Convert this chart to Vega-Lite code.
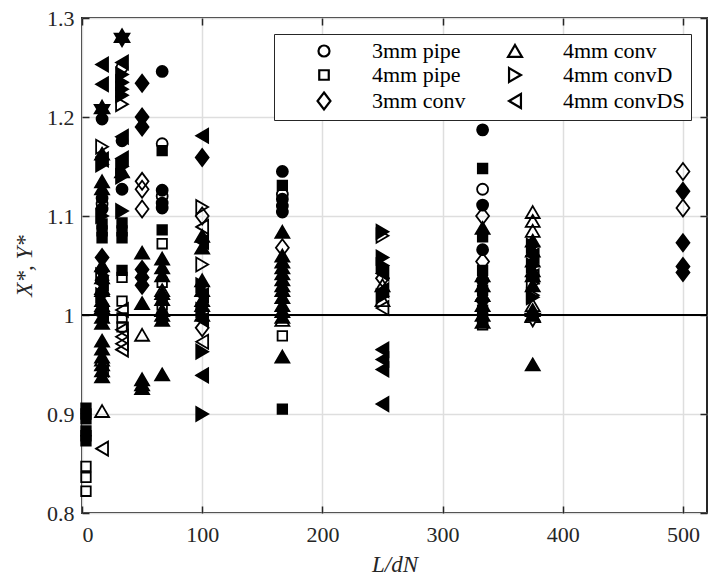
{
  "width": 625,
  "height": 495,
  "autosize": {"type": "none"},
  "padding": {"left": 82, "top": 18, "right": 7, "bottom": 66},
  "background": "white",
  "config": {
    "font": "Liberation Serif, DejaVu Serif, serif",
    "view": {"stroke": "#262626", "strokeWidth": 2},
    "axis": {
      "domain": false, "tickColor": "#262626", "tickWidth": 1.5, "tickSize": -7,
      "labelColor": "#262626", "labelFontSize": 22, "labelFont": "Liberation Serif, DejaVu Serif, serif",
      "titleFont": "Liberation Serif, DejaVu Serif, serif", "titleFontSize": 23, "titleFontWeight": "normal",
      "titleFontStyle": "italic", "titleColor": "#262626",
      "gridColor": "#dedede", "gridWidth": 1.5, "gridOpacity": 1
    }
  },
  "data": {"values": [
    {"x":3.3,"y":0.906,"g":"4mm pipe","f":"X"},{"x":3.3,"y":0.9,"g":"4mm pipe","f":"X"},{"x":3.3,"y":0.895,"g":"4mm pipe","f":"X"},
    {"x":3.3,"y":0.883,"g":"4mm pipe","f":"X"},{"x":3.3,"y":0.878,"g":"4mm pipe","f":"X"},{"x":3.3,"y":0.873,"g":"4mm pipe","f":"X"},
    {"x":3.3,"y":0.847,"g":"4mm pipe","f":"Y"},{"x":3.3,"y":0.836,"g":"4mm pipe","f":"Y"},{"x":3.3,"y":0.822,"g":"4mm pipe","f":"Y"},

    {"x":16.7,"y":1.253,"g":"4mm convDS","f":"X"},{"x":16.7,"y":1.233,"g":"4mm convDS","f":"X"},{"x":16.7,"y":1.208,"g":"star","f":"X"},
    {"x":16.7,"y":1.198,"g":"3mm pipe","f":"X"},{"x":16.7,"y":1.17,"g":"4mm convD","f":"Y"},{"x":16.7,"y":1.163,"g":"4mm conv","f":"X"},
    {"x":16.7,"y":1.157,"g":"4mm convDS","f":"X"},{"x":16.7,"y":1.158,"g":"3mm pipe","f":"Y"},{"x":16.7,"y":1.152,"g":"4mm convD","f":"X"},
    {"x":16.7,"y":1.135,"g":"4mm conv","f":"X"},{"x":16.7,"y":1.128,"g":"4mm conv","f":"X"},{"x":16.7,"y":1.118,"g":"3mm pipe","f":"X"},
    {"x":16.7,"y":1.112,"g":"3mm pipe","f":"Y"},{"x":16.7,"y":1.107,"g":"3mm pipe","f":"X"},{"x":16.7,"y":1.1,"g":"4mm convD","f":"X"},
    {"x":16.7,"y":1.092,"g":"4mm pipe","f":"X"},{"x":16.7,"y":1.085,"g":"4mm pipe","f":"X"},{"x":16.7,"y":1.078,"g":"4mm pipe","f":"X"},
    {"x":16.7,"y":1.058,"g":"3mm conv","f":"X"},{"x":16.7,"y":1.05,"g":"4mm conv","f":"X"},{"x":16.7,"y":1.045,"g":"3mm conv","f":"X"},
    {"x":16.7,"y":1.038,"g":"4mm conv","f":"X"},{"x":16.7,"y":1.032,"g":"4mm convDS","f":"X"},{"x":16.7,"y":1.027,"g":"4mm conv","f":"X"},
    {"x":16.7,"y":1.02,"g":"4mm convD","f":"X"},{"x":16.7,"y":1.015,"g":"4mm conv","f":"X"},{"x":16.7,"y":1.008,"g":"4mm conv","f":"X"},
    {"x":16.7,"y":1.003,"g":"4mm convDS","f":"X"},{"x":16.7,"y":0.998,"g":"4mm conv","f":"X"},{"x":16.7,"y":0.992,"g":"4mm conv","f":"X"},
    {"x":16.7,"y":1.025,"g":"4mm conv","f":"Y"},{"x":16.7,"y":1.01,"g":"4mm conv","f":"Y"},{"x":16.7,"y":1.04,"g":"4mm convD","f":"Y"},
    {"x":16.7,"y":1.0,"g":"4mm convDS","f":"Y"},{"x":16.7,"y":1.035,"g":"3mm conv","f":"Y"},
    {"x":16.7,"y":0.974,"g":"4mm conv","f":"X"},{"x":16.7,"y":0.966,"g":"4mm conv","f":"X"},{"x":16.7,"y":0.958,"g":"4mm conv","f":"X"},
    {"x":16.7,"y":0.95,"g":"4mm conv","f":"X"},{"x":16.7,"y":0.944,"g":"4mm conv","f":"X"},{"x":16.7,"y":0.938,"g":"4mm conv","f":"X"},
    {"x":16.7,"y":0.955,"g":"4mm conv","f":"Y"},{"x":16.7,"y":0.945,"g":"4mm convDS","f":"Y"},{"x":16.7,"y":0.903,"g":"4mm conv","f":"Y"},
    {"x":16.7,"y":0.865,"g":"4mm convDS","f":"Y"},

    {"x":33.3,"y":1.28,"g":"star","f":"X"},{"x":33.3,"y":1.255,"g":"4mm convDS","f":"X"},{"x":33.3,"y":1.25,"g":"3mm pipe","f":"Y"},
    {"x":33.3,"y":1.243,"g":"4mm convD","f":"X"},{"x":33.3,"y":1.235,"g":"4mm convD","f":"X"},{"x":33.3,"y":1.228,"g":"4mm convD","f":"X"},
    {"x":33.3,"y":1.222,"g":"4mm convD","f":"X"},{"x":33.3,"y":1.213,"g":"4mm convD","f":"Y"},{"x":33.3,"y":1.18,"g":"4mm convDS","f":"X"},
    {"x":33.3,"y":1.176,"g":"3mm pipe","f":"X"},{"x":33.3,"y":1.158,"g":"4mm convDS","f":"X"},{"x":33.3,"y":1.15,"g":"4mm convD","f":"X"},
    {"x":33.3,"y":1.145,"g":"4mm conv","f":"X"},{"x":33.3,"y":1.14,"g":"4mm convD","f":"X"},{"x":33.3,"y":1.127,"g":"3mm pipe","f":"X"},
    {"x":33.3,"y":1.105,"g":"4mm convD","f":"X"},{"x":33.3,"y":1.093,"g":"4mm pipe","f":"X"},{"x":33.3,"y":1.085,"g":"4mm pipe","f":"X"},
    {"x":33.3,"y":1.078,"g":"4mm pipe","f":"X"},{"x":33.3,"y":1.045,"g":"4mm pipe","f":"X"},{"x":33.3,"y":1.038,"g":"4mm pipe","f":"Y"},
    {"x":33.3,"y":1.014,"g":"4mm pipe","f":"Y"},{"x":33.3,"y":1.005,"g":"4mm convDS","f":"Y"},{"x":33.3,"y":0.997,"g":"4mm pipe","f":"Y"},
    {"x":33.3,"y":0.988,"g":"4mm pipe","f":"Y"},{"x":33.3,"y":0.985,"g":"4mm convDS","f":"Y"},{"x":33.3,"y":0.978,"g":"4mm convDS","f":"Y"},
    {"x":33.3,"y":0.971,"g":"4mm convDS","f":"Y"},{"x":33.3,"y":0.965,"g":"4mm convDS","f":"Y"},

    {"x":50,"y":1.234,"g":"3mm conv","f":"X"},{"x":50,"y":1.2,"g":"3mm conv","f":"X"},{"x":50,"y":1.19,"g":"3mm conv","f":"X"},
    {"x":50,"y":1.135,"g":"3mm conv","f":"Y"},{"x":50,"y":1.127,"g":"3mm conv","f":"Y"},{"x":50,"y":1.107,"g":"3mm conv","f":"Y"},
    {"x":50,"y":1.063,"g":"4mm conv","f":"X"},{"x":50,"y":1.046,"g":"3mm conv","f":"X"},{"x":50,"y":1.038,"g":"3mm conv","f":"X"},
    {"x":50,"y":1.03,"g":"3mm conv","f":"X"},{"x":50,"y":1.012,"g":"4mm conv","f":"X"},{"x":50,"y":0.98,"g":"4mm conv","f":"Y"},
    {"x":50,"y":0.935,"g":"4mm conv","f":"X"},{"x":50,"y":0.93,"g":"4mm conv","f":"X"},{"x":50,"y":0.926,"g":"4mm conv","f":"X"},

    {"x":66.7,"y":1.246,"g":"3mm pipe","f":"X"},{"x":66.7,"y":1.173,"g":"3mm pipe","f":"Y"},{"x":66.7,"y":1.166,"g":"4mm pipe","f":"X"},
    {"x":66.7,"y":1.126,"g":"3mm pipe","f":"X"},{"x":66.7,"y":1.12,"g":"3mm pipe","f":"Y"},{"x":66.7,"y":1.113,"g":"3mm pipe","f":"X"},
    {"x":66.7,"y":1.108,"g":"3mm pipe","f":"X"},{"x":66.7,"y":1.086,"g":"4mm pipe","f":"X"},{"x":66.7,"y":1.072,"g":"4mm pipe","f":"Y"},
    {"x":66.7,"y":1.057,"g":"4mm conv","f":"X"},{"x":66.7,"y":1.048,"g":"4mm conv","f":"X"},{"x":66.7,"y":1.04,"g":"4mm conv","f":"X"},
    {"x":66.7,"y":1.033,"g":"4mm pipe","f":"Y"},{"x":66.7,"y":1.022,"g":"4mm conv","f":"X"},{"x":66.7,"y":1.025,"g":"4mm conv","f":"Y"},
    {"x":66.7,"y":1.016,"g":"4mm conv","f":"X"},{"x":66.7,"y":1.01,"g":"4mm pipe","f":"Y"},{"x":66.7,"y":1.005,"g":"4mm conv","f":"X"},
    {"x":66.7,"y":1.0,"g":"4mm conv","f":"X"},{"x":66.7,"y":0.995,"g":"4mm conv","f":"X"},{"x":66.7,"y":0.998,"g":"4mm pipe","f":"Y"},
    {"x":66.7,"y":0.94,"g":"4mm conv","f":"X"},

    {"x":100,"y":1.181,"g":"4mm convDS","f":"X"},{"x":100,"y":1.159,"g":"3mm conv","f":"X"},{"x":100,"y":1.109,"g":"4mm convD","f":"Y"},
    {"x":100,"y":1.1,"g":"3mm conv","f":"Y"},{"x":100,"y":1.089,"g":"4mm convDS","f":"Y"},{"x":100,"y":1.08,"g":"4mm conv","f":"X"},
    {"x":100,"y":1.074,"g":"4mm convDS","f":"X"},{"x":100,"y":1.068,"g":"4mm conv","f":"X"},{"x":100,"y":1.051,"g":"4mm convD","f":"Y"},
    {"x":100,"y":1.035,"g":"4mm conv","f":"X"},{"x":100,"y":1.03,"g":"4mm convD","f":"X"},{"x":100,"y":1.025,"g":"4mm conv","f":"X"},
    {"x":100,"y":1.02,"g":"4mm convDS","f":"X"},{"x":100,"y":1.015,"g":"4mm conv","f":"X"},{"x":100,"y":1.01,"g":"4mm conv","f":"X"},
    {"x":100,"y":1.005,"g":"4mm convD","f":"X"},{"x":100,"y":1.0,"g":"4mm conv","f":"X"},{"x":100,"y":0.995,"g":"4mm convDS","f":"X"},
    {"x":100,"y":0.987,"g":"3mm conv","f":"Y"},{"x":100,"y":0.973,"g":"4mm convDS","f":"Y"},{"x":100,"y":0.963,"g":"4mm convD","f":"X"},
    {"x":100,"y":0.939,"g":"4mm convDS","f":"X"},{"x":100,"y":0.9,"g":"4mm convD","f":"X"},

    {"x":166.7,"y":1.145,"g":"3mm pipe","f":"X"},{"x":166.7,"y":1.131,"g":"4mm pipe","f":"X"},{"x":166.7,"y":1.122,"g":"3mm pipe","f":"Y"},
    {"x":166.7,"y":1.117,"g":"3mm pipe","f":"X"},{"x":166.7,"y":1.11,"g":"3mm pipe","f":"X"},{"x":166.7,"y":1.104,"g":"3mm pipe","f":"X"},
    {"x":166.7,"y":1.084,"g":"4mm conv","f":"X"},{"x":166.7,"y":1.068,"g":"3mm conv","f":"Y"},{"x":166.7,"y":1.06,"g":"4mm conv","f":"X"},
    {"x":166.7,"y":1.054,"g":"4mm conv","f":"X"},{"x":166.7,"y":1.048,"g":"4mm conv","f":"X"},{"x":166.7,"y":1.042,"g":"4mm conv","f":"X"},
    {"x":166.7,"y":1.036,"g":"4mm conv","f":"X"},{"x":166.7,"y":1.03,"g":"4mm conv","f":"X"},{"x":166.7,"y":1.025,"g":"4mm conv","f":"X"},
    {"x":166.7,"y":1.018,"g":"4mm conv","f":"X"},{"x":166.7,"y":1.01,"g":"4mm conv","f":"X"},{"x":166.7,"y":1.004,"g":"4mm conv","f":"X"},
    {"x":166.7,"y":0.998,"g":"4mm conv","f":"X"},{"x":166.7,"y":0.995,"g":"4mm conv","f":"Y"},{"x":166.7,"y":0.979,"g":"4mm pipe","f":"Y"},
    {"x":166.7,"y":0.958,"g":"4mm conv","f":"X"},{"x":166.7,"y":0.905,"g":"4mm pipe","f":"X"},

    {"x":250,"y":1.084,"g":"4mm convD","f":"X"},{"x":250,"y":1.08,"g":"4mm convD","f":"Y"},{"x":250,"y":1.058,"g":"4mm convD","f":"X"},
    {"x":250,"y":1.05,"g":"4mm convD","f":"X"},{"x":250,"y":1.042,"g":"4mm convDS","f":"X"},{"x":250,"y":1.037,"g":"3mm conv","f":"Y"},
    {"x":250,"y":1.03,"g":"4mm conv","f":"Y"},{"x":250,"y":1.025,"g":"4mm convDS","f":"X"},{"x":250,"y":1.019,"g":"4mm convD","f":"X"},
    {"x":250,"y":1.015,"g":"4mm conv","f":"Y"},{"x":250,"y":1.007,"g":"4mm convDS","f":"Y"},{"x":250,"y":0.965,"g":"4mm convDS","f":"X"},
    {"x":250,"y":0.955,"g":"4mm convDS","f":"X"},{"x":250,"y":0.945,"g":"4mm convDS","f":"X"},{"x":250,"y":0.91,"g":"4mm convDS","f":"X"},

    {"x":333.3,"y":1.187,"g":"3mm pipe","f":"X"},{"x":333.3,"y":1.148,"g":"4mm pipe","f":"X"},{"x":333.3,"y":1.127,"g":"3mm pipe","f":"Y"},
    {"x":333.3,"y":1.111,"g":"3mm pipe","f":"X"},{"x":333.3,"y":1.1,"g":"3mm conv","f":"Y"},{"x":333.3,"y":1.088,"g":"4mm conv","f":"X"},
    {"x":333.3,"y":1.079,"g":"4mm pipe","f":"X"},{"x":333.3,"y":1.066,"g":"3mm pipe","f":"X"},{"x":333.3,"y":1.054,"g":"3mm conv","f":"Y"},
    {"x":333.3,"y":1.045,"g":"4mm pipe","f":"X"},{"x":333.3,"y":1.04,"g":"4mm conv","f":"X"},{"x":333.3,"y":1.035,"g":"3mm pipe","f":"X"},
    {"x":333.3,"y":1.03,"g":"4mm conv","f":"X"},{"x":333.3,"y":1.025,"g":"4mm pipe","f":"X"},{"x":333.3,"y":1.02,"g":"4mm conv","f":"X"},
    {"x":333.3,"y":1.015,"g":"3mm conv","f":"X"},{"x":333.3,"y":1.01,"g":"4mm conv","f":"X"},{"x":333.3,"y":1.005,"g":"4mm pipe","f":"X"},
    {"x":333.3,"y":1.0,"g":"4mm conv","f":"X"},{"x":333.3,"y":0.996,"g":"4mm pipe","f":"X"},{"x":333.3,"y":0.993,"g":"4mm conv","f":"X"},
    {"x":333.3,"y":0.99,"g":"4mm pipe","f":"Y"},

    {"x":375,"y":1.104,"g":"4mm conv","f":"Y"},{"x":375,"y":1.095,"g":"4mm conv","f":"Y"},{"x":375,"y":1.085,"g":"4mm conv","f":"Y"},
    {"x":375,"y":1.075,"g":"4mm conv","f":"X"},{"x":375,"y":1.07,"g":"4mm convD","f":"X"},{"x":375,"y":1.065,"g":"4mm conv","f":"X"},
    {"x":375,"y":1.06,"g":"4mm convDS","f":"X"},{"x":375,"y":1.055,"g":"4mm conv","f":"X"},{"x":375,"y":1.05,"g":"4mm convD","f":"X"},
    {"x":375,"y":1.045,"g":"4mm conv","f":"X"},{"x":375,"y":1.04,"g":"4mm conv","f":"X"},{"x":375,"y":1.039,"g":"4mm convDS","f":"Y"},
    {"x":375,"y":1.032,"g":"4mm convD","f":"Y"},{"x":375,"y":1.03,"g":"4mm conv","f":"X"},{"x":375,"y":1.018,"g":"4mm convD","f":"X"},
    {"x":375,"y":1.02,"g":"4mm convD","f":"Y"},{"x":375,"y":1.01,"g":"4mm conv","f":"Y"},{"x":375,"y":1.005,"g":"4mm conv","f":"X"},
    {"x":375,"y":1.0,"g":"4mm conv","f":"X"},{"x":375,"y":0.997,"g":"star","f":"Y"},{"x":375,"y":0.95,"g":"4mm conv","f":"X"},

    {"x":500,"y":1.145,"g":"3mm conv","f":"Y"},{"x":500,"y":1.125,"g":"3mm conv","f":"X"},{"x":500,"y":1.108,"g":"3mm conv","f":"Y"},
    {"x":500,"y":1.073,"g":"3mm conv","f":"X"},{"x":500,"y":1.049,"g":"3mm conv","f":"X"},{"x":500,"y":1.043,"g":"3mm conv","f":"X"}
  ]},
  "resolve": {"axis": {"x": "independent", "y": "independent"}},
  "layer": [
    {
      "data": {"values": [{}]},
      "mark": {"type": "rule", "color": "black", "strokeWidth": 2},
      "encoding": {
        "y": {"datum": 1, "type": "quantitative", "scale": {"domain": [0.8, 1.3], "nice": false, "zero": false}, "axis": null}
      }
    },
    {
      "mark": {"type": "point", "filled": true, "stroke": "black", "strokeWidth": 1.8, "size": 289, "opacity": 1},
      "encoding": {
        "x": {"field": "x", "type": "quantitative",
              "scale": {"domain": [0, 520], "nice": false, "zero": false},
              "axis": {"values": [0, 100, 200, 300, 400, 500], "format": "d", "labelPadding": 18, "title": "L/dN", "titlePadding": 8, "grid": true}},
        "y": {"field": "y", "type": "quantitative",
              "scale": {"domain": [0.8, 1.3], "nice": false, "zero": false},
              "axis": {"values": [0.8, 0.9, 1, 1.1, 1.2, 1.3], "format": "~g", "labelPadding": 15, "title": "X*, Y*", "titlePadding": 10, "grid": true}},
        "shape": {"field": "g", "type": "nominal",
                  "scale": {"domain": ["3mm pipe", "4mm pipe", "3mm conv", "4mm conv", "4mm convD", "4mm convDS", "star"],
                            "range": [
                              "M0.647,0A0.647,0.647,0,1,1,-0.647,0A0.647,0.647,0,1,1,0.647,0Z",
                              "M-0.56,-0.56H0.56V0.56H-0.56Z",
                              "M0,-1L0.76,0L0,1L-0.76,0Z",
                              "M0,-0.7L0.82,0.7L-0.82,0.7Z",
                              "M0.7,0L-0.7,0.82L-0.7,-0.82Z",
                              "M-0.7,0L0.7,-0.82L0.7,0.82Z",
                              "M0,-1L0.289,-0.5L0.866,-0.5L0.577,0L0.866,0.5L0.289,0.5L0,1L-0.289,0.5L-0.866,0.5L-0.577,0L-0.866,-0.5L-0.289,-0.5Z"
                            ]},
                  "legend": {
                    "values": ["3mm pipe", "4mm pipe", "3mm conv", "4mm conv", "4mm convD", "4mm convDS"],
                    "orient": "none", "legendX": 192, "legendY": 16,
                    "columns": 2, "columnPadding": 37, "rowPadding": 1, "padding": 6,
                    "title": " ", "titleOrient": "left", "titleFontSize": 1, "titlePadding": 33,
                    "labelFontSize": 22, "labelFont": "Liberation Serif, DejaVu Serif, serif", "labelColor": "black", "labelOffset": 37,
                    "symbolSize": 289, "symbolStrokeWidth": 2.2, "symbolFillColor": "white", "symbolStrokeColor": "black",
                    "strokeColor": "#262626", "fillColor": "white",
                    "encode": {
                      "symbols": {"update": {"fill": {"value": "white"}, "stroke": {"value": "black"}, "strokeWidth": {"value": 2.2}}},
                      "legend": {"update": {"stroke": {"value": "#262626"}, "strokeWidth": {"value": 2}, "fill": {"value": "white"}}}
                    }
                  }},
        "fill": {"field": "f", "type": "nominal", "scale": {"domain": ["X", "Y"], "range": ["black", "transparent"]}, "legend": null}
      }
    },
    {
      "mark": {"type": "point", "opacity": 0},
      "encoding": {
        "x": {"field": "x", "type": "quantitative",
              "scale": {"domain": [0, 520], "nice": false, "zero": false},
              "axis": {"orient": "top", "values": [0, 100, 200, 300, 400, 500], "labels": false, "title": null, "grid": false}},
        "y": {"field": "y", "type": "quantitative",
              "scale": {"domain": [0.8, 1.3], "nice": false, "zero": false},
              "axis": {"orient": "right", "values": [0.8, 0.9, 1, 1.1, 1.2, 1.3], "labels": false, "title": null, "grid": false}}
      }
    }
  ]
}
